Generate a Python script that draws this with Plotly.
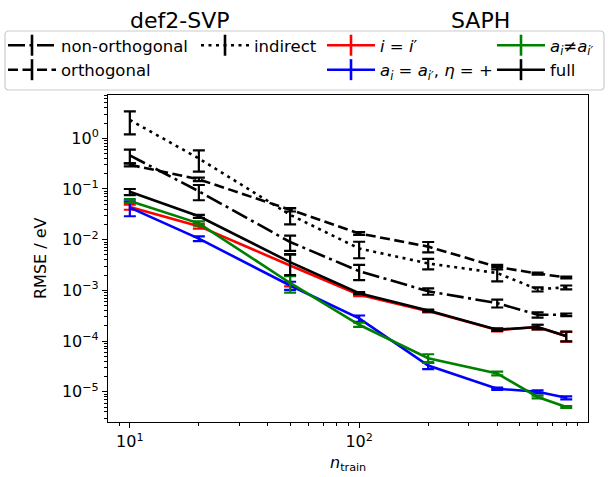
import plotly.graph_objects as go

# ---------------- data ----------------
n_train = [10, 20, 50, 100, 200, 400, 600, 800]

# def2-SVP
non_orth = [0.46, 0.090, 0.0090, 0.0024, 0.00096, 0.00056, 0.00033, 0.00033]
non_orth_err = [0.14, 0.03, 0.003, 0.0008, 0.00014, 0.0001, 0.00004, 0.00002]
orth = [0.30, 0.155, 0.039, 0.0133, 0.0073, 0.0029, 0.00215, 0.0018]
orth_err = [0.02, 0.012, 0.003, 0.0008, 0.0017, 0.0003, 0.0001, 0.00008]
indirect = [2.3, 0.40, 0.031, 0.0067, 0.0034, 0.0022, 0.00105, 0.00115]
indirect_err = [1.1, 0.18, 0.011, 0.0024, 0.0008, 0.0007, 0.0001, 0.0001]

# SAPH
same_i = [0.044, 0.0185, 0.0031, 0.00082, 0.00039, 0.000165, 0.00019, 0.000125]
same_i_err = [0.005, 0.002, 0.0019, 0.00005, 0.00002, 0.00001, 0.00002, 0.000027]
same_a = [0.043, 0.0105, 0.00125, 0.00028, 3.3e-5, 1.15e-5, 1.0e-5, 7.6e-6]
same_a_err = [0.014, 0.0011, 0.00023, 0.00004, 0.5e-5, 0.06e-5, 0.07e-5, 0.5e-6]
diff_a = [0.058, 0.021, 0.0014, 0.00021, 4.6e-5, 2.3e-5, 7.9e-6, 5.0e-6]
diff_a_err = [0.005, 0.002, 0.0005, 0.00002, 0.9e-5, 0.2e-5, 0.5e-6, 0.2e-6]
full = [0.088, 0.029, 0.0036, 0.00088, 0.00040, 0.000168, 0.00019, 0.000126]
full_err = [0.012, 0.002, 0.0016, 0.00004, 0.00002, 0.00001, 0.00002, 0.000027]

x_tick_vals = [10, 100]
x_tick_text = ["10<sup>1</sup>", "10<sup>2</sup>"]
y_tick_vals = [1e-5, 1e-4, 1e-3, 1e-2, 1e-1, 1e0]
y_tick_text = ["10<sup>−5</sup>", "10<sup>−4</sup>", "10<sup>−3</sup>",
               "10<sup>−2</sup>", "10<sup>−1</sup>", "10<sup>0</sup>"]

header_left = "def2-SVP"
header_right = "SAPH"
x_title = "<i>n</i><sub>train</sub>"
y_title = "RMSE / eV"

# ---------------- styles ----------------
W, H = 609, 477
L, R, T, B = 108, 21, 95, 55
LW = 2.6
DASHED = "10px,4.5px"
DASHDOT = "17px,4.5px,3px,4.5px"
DOTTED = "3px,4.5px"

series = [
    # name, values, errors, color, dash, legend
    ("non-orthogonal", non_orth, non_orth_err, "black", DASHDOT, "legend"),
    ("orthogonal", orth, orth_err, "black", DASHED, "legend"),
    ("indirect", indirect, indirect_err, "black", DOTTED, "legend2"),
    ("<i>i</i> = <i>i</i>′", same_i, same_i_err, "#ff0000", "solid", "legend3"),
    ("<i>a<sub>i</sub></i> = <i>a<sub>i′</sub></i>, <i>η</i> = +", same_a, same_a_err, "#0000ff", "solid", "legend3"),
    ("<i>a<sub>i</sub></i>≠<i>a<sub>i′</sub></i>", diff_a, diff_a_err, "#008000", "solid", "legend4"),
    ("full", full, full_err, "black", "solid", "legend4"),
]

fig = go.Figure()
for name, vals, errs, col, dash, lg in series:
    fig.add_trace(go.Scatter(
        x=n_train, y=vals, mode="lines", name=name, showlegend=False,
        line=dict(color=col, width=LW, dash=dash),
        error_y=dict(type="data", array=errs, visible=True, color=col,
                     thickness=2.2, width=6),
    ))
# legend entries (errorbar-like glyph)
for name, vals, errs, col, dash, lg in series:
    fig.add_trace(go.Scatter(
        x=[None], y=[None], mode="lines+markers", name=name, legend=lg,
        line=dict(color=col, width=LW, dash=dash),
        marker=dict(symbol="line-ns", size=15, line=dict(width=2.6, color=col)),
    ))

# minor ticks
x_minor = [m * 10 ** e for e in range(0, 3) for m in range(2, 10)]
y_minor = [m * 10 ** e for e in range(-6, 1) for m in range(2, 10)]

axis_common = dict(
    type="log", showline=True, linewidth=1.1, linecolor="black", mirror=True,
    ticks="outside", ticklen=5, tickwidth=1.1, tickcolor="black",
    showgrid=False, zeroline=False, tickfont=dict(size=16),
)
fig.update_xaxes(
    **axis_common, range=[0.9048, 2.998], tickmode="array",
    tickvals=x_tick_vals, ticktext=x_tick_text,
    minor=dict(tickmode="array", tickvals=x_minor, ticks="outside", ticklen=3,
               tickwidth=0.9, tickcolor="black", showgrid=False),
)
fig.update_yaxes(
    **axis_common, range=[-5.596, 0.854], tickmode="array",
    tickvals=y_tick_vals, ticktext=y_tick_text,
    minor=dict(tickmode="array", tickvals=y_minor, ticks="outside", ticklen=3,
               tickwidth=0.9, tickcolor="black", showgrid=False),
)


def px_to_paper(px, py):
    return (px - L) / (W - L - R), (H - B - py) / (H - T - B)


def rounded_rect(x0, y0, x1, y1, r):
    pts = []
    a = px_to_paper(x0 + r, y0); pts.append("M %f,%f" % a)
    b = px_to_paper(x1 - r, y0); pts.append("L %f,%f" % b)
    c = px_to_paper(x1, y0); d = px_to_paper(x1, y0 + r)
    pts.append("Q %f,%f %f,%f" % (c + d))
    e = px_to_paper(x1, y1 - r); pts.append("L %f,%f" % e)
    f = px_to_paper(x1, y1); g = px_to_paper(x1 - r, y1)
    pts.append("Q %f,%f %f,%f" % (f + g))
    h = px_to_paper(x0 + r, y1); pts.append("L %f,%f" % h)
    i = px_to_paper(x0, y1); j = px_to_paper(x0, y1 - r)
    pts.append("Q %f,%f %f,%f" % (i + j))
    k = px_to_paper(x0, y0 + r); pts.append("L %f,%f" % k)
    m = px_to_paper(x0, y0); n = px_to_paper(x0 + r, y0)
    pts.append("Q %f,%f %f,%f Z" % (m + n))
    return " ".join(pts)


fig.add_shape(type="path", xref="paper", yref="paper",
              path=rounded_rect(5, 31, 604, 90, 4),
              line=dict(color="#cccccc", width=1.2), fillcolor="rgba(255,255,255,0.8)",
              layer="above")

leg_common = dict(xref="container", yref="container", xanchor="left", yanchor="top",
                  bgcolor="rgba(0,0,0,0)", borderwidth=0, font=dict(size=16.5),
                  itemwidth=48, tracegroupgap=0)
leg_top = 1 - 28 / H
fig.update_layout(
    legend=dict(**leg_common, x=3 / W, y=leg_top),
    legend2=dict(**leg_common, x=196 / W, y=leg_top),
    legend3=dict(**leg_common, x=322 / W, y=leg_top),
    legend4=dict(**leg_common, x=492 / W, y=leg_top),
)

for text, cx in ((header_left, 179), (header_right, 480)):
    hx, hy = px_to_paper(cx, 20)
    fig.add_annotation(x=hx, y=hy, xref="paper", yref="paper", text=text,
                       showarrow=False, font=dict(size=22), xanchor="center", yanchor="middle")

ax_, ay_ = px_to_paper(348, 463)
fig.add_annotation(x=ax_, y=ay_, xref="paper", yref="paper", text=x_title,
                   showarrow=False, font=dict(size=16), xanchor="center", yanchor="middle")
ax_, ay_ = px_to_paper(40, 258)
fig.add_annotation(x=ax_, y=ay_, xref="paper", yref="paper", text=y_title, textangle=-90,
                   showarrow=False, font=dict(size=16), xanchor="center", yanchor="middle")

fig.update_layout(
    width=W, height=H, margin=dict(l=L, r=R, t=T, b=B, autoexpand=False),
    plot_bgcolor="white", paper_bgcolor="white",
    font=dict(family="DejaVu Sans", size=16, color="black"),
)
fig.write_html("out.html", config={"displayModeBar": False},
               post_script="document.body.style.margin='0';")
